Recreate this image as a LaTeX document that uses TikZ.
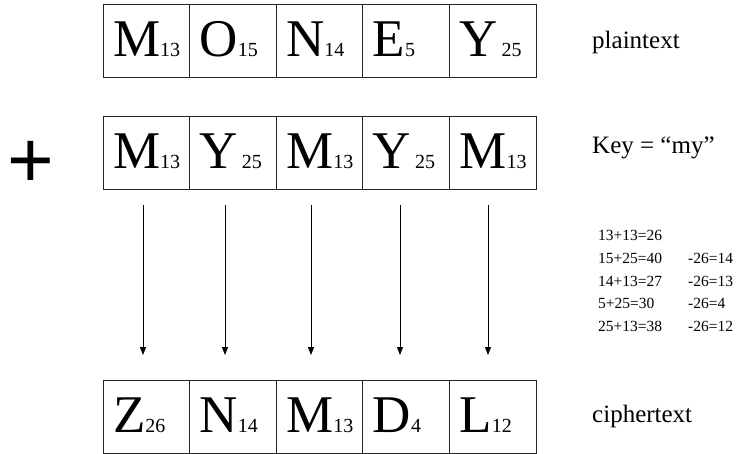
\documentclass[tikz,border=0pt]{standalone}
\usepackage{fontspec}
\setmainfont{Liberation Serif}
\newfontfamily\plusfont{Liberation Sans}
\usetikzlibrary{arrows.meta}
\newcommand\sbn[1]{{\fontsize{20}{20}\selectfont #1}}
\newcommand\ysb[1]{\mbox{Y\hspace{4pt}\sbn{#1}}}
\begin{document}
\begin{tikzpicture}[x=1pt,y=-1pt,
  cell/.style={draw=black!85, line width=1pt, minimum width=86.6pt, minimum height=73pt,
    inner xsep=10pt, inner ysep=0pt, text width=66.6pt, align=left,
    text height=34pt, text depth=3pt, font=\fontsize{53}{53}\selectfont},
  lbl/.style={anchor=base west, font=\fontsize{25}{25}\selectfont, inner sep=0pt},
  calcline/.style={anchor=base west, font=\fontsize{15.5}{15.5}\selectfont, inner sep=0pt},
  arr/.style={line width=1pt, -{Triangle[width=6pt,length=8pt]}}]
\useasboundingbox (0,0) rectangle (749,453);
% plaintext row
\node[cell] (p1) at (146.3,41) {M\sbn{13}};
\node[cell] (p2) at (232.9,41) {O\sbn{15}};
\node[cell] (p3) at (319.5,41) {N\sbn{14}};
\node[cell] (p4) at (406.1,41) {E\sbn{5}};
\node[cell] (p5) at (492.7,41) {\ysb{25}};
% key row
\node[cell] (k1) at (146.3,152.5) {M\sbn{13}};
\node[cell] (k2) at (232.9,152.5) {\ysb{25}};
\node[cell] (k3) at (319.5,152.5) {M\sbn{13}};
\node[cell] (k4) at (406.1,152.5) {\ysb{25}};
\node[cell] (k5) at (492.7,152.5) {M\sbn{13}};
% cipher row
\node[cell] (c1) at (146.3,416.5) {Z\sbn{26}};
\node[cell] (c2) at (232.9,416.5) {N\sbn{14}};
\node[cell] (c3) at (319.5,416.5) {M\sbn{13}};
\node[cell] (c4) at (406.1,416.5) {D\sbn{4}};
\node[cell] (c5) at (492.7,416.5) {L\sbn{12}};
% plus
\node[anchor=base, inner sep=0pt, font=\plusfont\fontsize{80}{80}\selectfont] (plus) at (31,187) {+};
% labels
\node[lbl] (lp) at (592,48) {plaintext};
\node[lbl] (lk) at (592,153) {Key = “my”};
\node[lbl] (lc) at (592,422) {ciphertext};
% calculations
\node[calcline] (q1) at (598,240) {13+13=26};
\node[calcline] (q2) at (598,263) {\makebox[90pt][l]{15+25=40}-26=14};
\node[calcline] (q3) at (598,286) {\makebox[90pt][l]{14+13=27}-26=13};
\node[calcline] (q4) at (598,308) {\makebox[90pt][l]{5+25=30}-26=4};
\node[calcline] (q5) at (598,331) {\makebox[90pt][l]{25+13=38}-26=12};
% arrows
\foreach \i/\x in {1/143,2/225,3/311,4/400,5/488}{
  \coordinate (s\i) at (\x,205);
  \coordinate (e\i) at (\x,355);
  \draw[arr] (s\i) -- (e\i);
}
\end{tikzpicture}
\end{document}
